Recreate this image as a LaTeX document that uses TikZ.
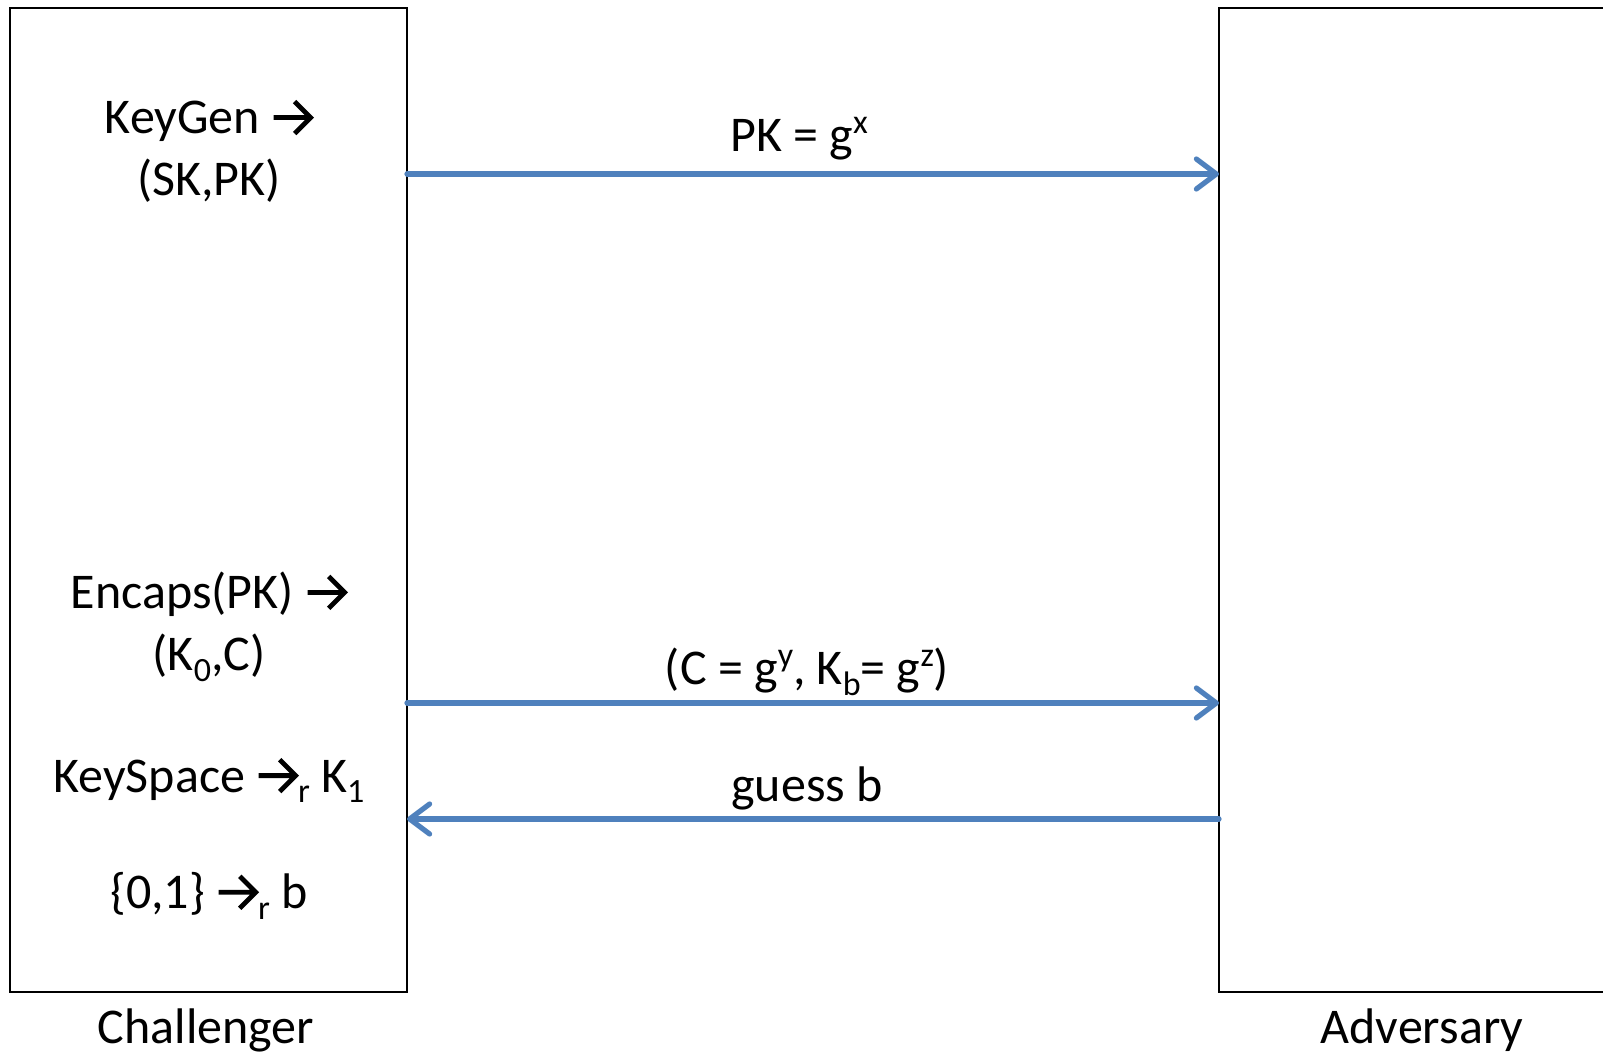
\documentclass[tikz,border=0pt]{standalone}
\usepackage{fontspec}
\setmainfont{Carlito}
\usepackage{tikz}
\usetikzlibrary{arrows.meta, positioning, calc}

\newcommand{\lowr}[1]{\raisebox{-0.45ex}{\fontsize{17}{17}\selectfont #1}}
\newcommand{\upr}[1]{\raisebox{0.75ex}{\fontsize{17}{17}\selectfont #1}}
% chunky arrow as in the slide
\newcommand{\garrow}{\tikz[baseline=0pt, x=1pt, y=1pt]
  \draw[line width=2.4pt, line cap=butt, line join=miter, draw=black]
    (0,8.2) -- (18.5,8.2) (10.5,16.2) -- (18.5,8.2) -- (10.5,0.2);}

\begin{document}
\begin{tikzpicture}[
  x=0.5pt, y=-0.5pt,
  every node/.style={font=\fontsize{25}{31}\selectfont, inner sep=0pt, outer sep=0pt},
  party/.style={draw=black, line width=1pt, anchor=north west, minimum height=492pt},
  lbl/.style={align=center},
  arr/.style={-{Straight Barb[length=10pt, width=15pt, round]}, line width=2.6pt,
    draw={rgb,255:red,79;green,129;blue,189}, line cap=round}
]
  \useasboundingbox (0,0) rectangle (1603,1054);

  % the two parties
  \node[party, minimum width=198.5pt] (chal) at (10,8) {};
  \node[party, minimum width=203pt] (adv) at (1219,8) {};

  \node[anchor=base] (chalname) at (206,1043) {Challenger};
  \node[anchor=base] (advname) at (1422,1043) {Adversary};

  % challenger steps
  \node[lbl] (keygen) at (209,151) {KeyGen \garrow\\(SK,PK)};
  \node[lbl] (encaps) at (209,627) {Encaps(PK) \garrow\\(K\lowr{0},C)};
  \node[lbl] (keyspace) at (209,780) {KeySpace \garrow\lowr{r} K\lowr{1}};
  \node[lbl] (coin) at (209,896) {\{0,1\} \garrow\lowr{r} b};

  % messages
  \coordinate (pkrow) at (0,174);
  \coordinate (ctrow) at (0,703);
  \coordinate (guessrow) at (0,819);

  \draw[arr] (chal.east |- pkrow) -- (adv.west |- pkrow);
  \draw[arr] (chal.east |- ctrow) -- (adv.west |- ctrow);
  \draw[arr] (adv.west |- guessrow) -- (chal.east |- guessrow);

  \node (pkmsg) at (799,139) {PK = g\upr{x}};
  \node (ctmsg) at (807,672) {(C = g\upr{y}, K\lowr{b}= g\upr{z})};
  \node (guessmsg) at (807,788) {guess b};
\end{tikzpicture}
\end{document}
